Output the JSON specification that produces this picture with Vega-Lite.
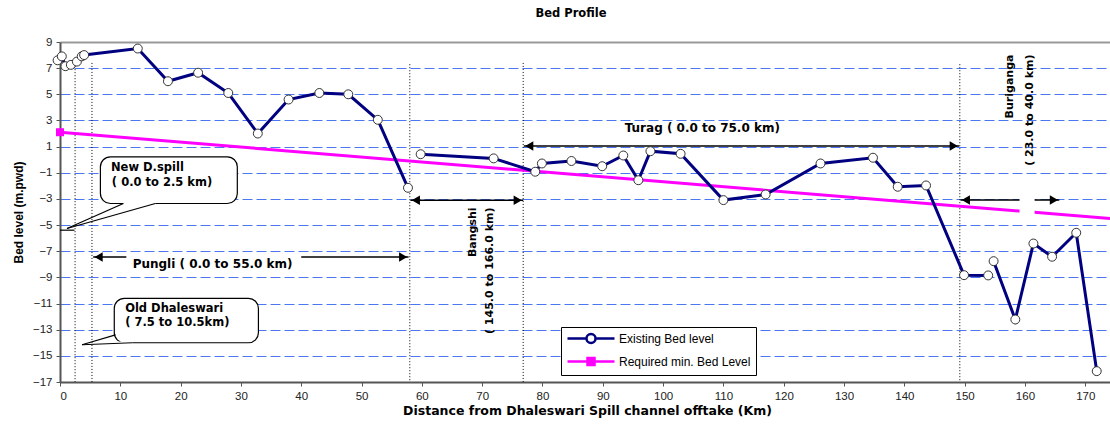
{
  "$schema": "https://vega.github.io/schema/vega-lite/v6.json",
  "width": 1050,
  "height": 340,
  "autosize": {"type": "none"},
  "padding": {"left": 60, "top": 42, "right": 0, "bottom": 43},
  "background": "white",
  "title": {"text": "Bed Profile", "font": "DejaVu Sans", "fontSize": 11.5, "fontWeight": "bold", "color": "black", "anchor": "middle", "dx": -14, "offset": 8, "baseline": "alphabetic"},
  "config": {"view": {"stroke": null}},
  "datasets": {
    "bed": [
      {"km": -0.4, "level": 7.6, "seg": 1},
      {"km": 0.3, "level": 7.9, "seg": 1},
      {"km": 0.9, "level": 7.15, "seg": 1},
      {"km": 1.8, "level": 7.25, "seg": 1},
      {"km": 2.8, "level": 7.5, "seg": 1},
      {"km": 3.6, "level": 7.9, "seg": 1},
      {"km": 4.0, "level": 8.0, "seg": 1},
      {"km": 12.9, "level": 8.5, "seg": 1},
      {"km": 17.9, "level": 6.0, "seg": 1},
      {"km": 22.9, "level": 6.65, "seg": 1},
      {"km": 27.9, "level": 5.1, "seg": 1},
      {"km": 32.8, "level": 2.0, "seg": 1},
      {"km": 37.9, "level": 4.6, "seg": 1},
      {"km": 43.0, "level": 5.1, "seg": 1},
      {"km": 47.8, "level": 5.0, "seg": 1},
      {"km": 52.7, "level": 3.05, "seg": 1},
      {"km": 57.7, "level": -2.15, "seg": 1},
      {"km": 59.8, "level": 0.42, "seg": 2},
      {"km": 71.9, "level": 0.1, "seg": 2},
      {"km": 78.8, "level": -0.92, "seg": 2},
      {"km": 79.9, "level": -0.29, "seg": 2},
      {"km": 84.8, "level": -0.1, "seg": 2},
      {"km": 89.9, "level": -0.5, "seg": 2},
      {"km": 93.4, "level": 0.32, "seg": 2},
      {"km": 95.9, "level": -1.57, "seg": 2},
      {"km": 97.9, "level": 0.65, "seg": 2},
      {"km": 102.9, "level": 0.45, "seg": 2},
      {"km": 110.0, "level": -3.09, "seg": 2},
      {"km": 117.0, "level": -2.66, "seg": 2},
      {"km": 126.1, "level": -0.29, "seg": 2},
      {"km": 134.8, "level": 0.15, "seg": 2},
      {"km": 138.9, "level": -2.07, "seg": 2},
      {"km": 143.6, "level": -1.97, "seg": 2},
      {"km": 149.9, "level": -8.83, "seg": 2},
      {"km": 153.9, "level": -8.85, "seg": 2},
      {"km": 154.8, "level": -7.76, "seg": 3},
      {"km": 158.4, "level": -12.22, "seg": 3},
      {"km": 161.4, "level": -6.41, "seg": 3},
      {"km": 164.5, "level": -7.42, "seg": 3},
      {"km": 168.5, "level": -5.59, "seg": 3},
      {"km": 171.9, "level": -16.17, "seg": 3}
    ],
    "req": [
      {"km": 0, "level": 2.1},
      {"km": 176, "level": -4.57}
    ],
    "vlines": [
      {"km": 2.5, "level": 7.15, "level2": -17},
      {"km": 5.3, "level": 7.4, "level2": -17},
      {"km": 58.0, "level": 7.3, "level2": -17},
      {"km": 76.8, "level": 7.4, "level2": -17},
      {"km": 149.2, "level": 7.3, "level2": -17}
    ],
    "arrows": [
      {"km": 5.5, "km2": 57.8, "level": -7.45},
      {"km": 58.1, "km2": 76.8, "level": -3.1},
      {"km": 76.9, "km2": 149.1, "level": 1.04},
      {"km": 149.3, "km2": 165.7, "level": -3.09}
    ],
    "heads": [
      {"km": 6.4, "level": -7.45, "dir": "left"},
      {"km": 56.9, "level": -7.45, "dir": "right"},
      {"km": 59.0, "level": -3.1, "dir": "left"},
      {"km": 75.9, "level": -3.1, "dir": "right"},
      {"km": 77.8, "level": 1.04, "dir": "left"},
      {"km": 148.2, "level": 1.04, "dir": "right"},
      {"km": 150.2, "level": -3.09, "dir": "left"},
      {"km": 164.8, "level": -3.09, "dir": "right"}
    ],
    "covers": [
      {"km": 11.0, "km2": 40.0, "level": -7.2, "level2": -8.7},
      {"km": 159.1, "km2": 161.6, "level": -2.6, "level2": -4.3}
    ],
    "boxes": [
      {"km": 6.7, "km2": 29.4, "level": 0.22, "level2": -3.35},
      {"km": 9.0, "km2": 32.9, "level": -10.6, "level2": -14.0}
    ],
    "tailcover": [
      {"km": 10.5, "km2": 15.8, "level": -3.35, "level2": -3.35},
      {"km": 9.4, "km2": 12.0, "level": -14.0, "level2": -14.0}
    ],
    "tails": [
      {"km": 10.5, "level": -3.35, "km2": 1.16, "level2": -5.26},
      {"km": 15.8, "level": -3.35, "km2": 1.16, "level2": -5.26},
      {"km": 0, "level": -5.39, "km2": 2.4, "level2": -5.39},
      {"km": 9.2, "level": -13.4, "km2": 3.65, "level2": -14.15},
      {"km": 12.0, "level": -14.0, "km2": 3.65, "level2": -14.15}
    ],
    "leftlabels": [
      {"km": 8.45, "level": -0.6, "label": "New D.spill"},
      {"km": 8.6, "level": -1.82, "label": "( 0.0 to 2.5 km)"},
      {"km": 10.8, "level": -11.45, "label": "Old Dhaleswari"},
      {"km": 10.8, "level": -12.52, "label": "( 7.5 to 10.5km)"}
    ],
    "midlabels": [
      {"km": 25.3, "level": -8.0, "label": "Pungli ( 0.0 to 55.0 km)"},
      {"km": 106.5, "level": 2.39, "label": "Turag ( 0.0 to 75.0 km)"}
    ],
    "vlabels": [
      {"km": 68.5, "level": -3.65, "label": "Bangshi"},
      {"km": 71.35, "level": -3.65, "label": "( 145.0 to 166.0 km)"},
      {"km": 157.6, "level": 8.04, "label": "Buriganga"},
      {"km": 160.8, "level": 8.04, "label": "( 23.0 to 40.0 km)"}
    ]
  },
  "encoding": {
    "x": {
      "field": "km", "type": "quantitative",
      "scale": {"domain": [0, 174.1], "nice": false, "zero": false},
      "axis": {
        "values": [0, 10, 20, 30, 40, 50, 60, 70, 80, 90, 100, 110, 120, 130, 140, 150, 160, 170],
        "grid": false, "domainColor": "#555", "domainWidth": 2, "tickColor": "#555", "tickSize": 4,
        "labelFont": "Liberation Sans", "labelFontSize": 11.5, "labelColor": "#222", "labelPadding": 4,
        "title": "Distance from Dhaleswari Spill channel offtake (Km)",
        "titleFont": "DejaVu Sans", "titleFontSize": 12.5, "titleFontWeight": "bold", "titleColor": "black",
        "titleX": 527, "titleY": 28, "titleBaseline": "middle", "titleAlign": "center"
      }
    },
    "y": {
      "field": "level", "type": "quantitative",
      "scale": {"domain": [-17, 9], "nice": false, "zero": false},
      "axis": {
        "values": [-17, -15, -13, -11, -9, -7, -5, -3, -1, 1, 3, 5, 7, 9],
        "grid": true,
        "gridColor": {"condition": {"test": "datum.value === 9", "value": "#999999"}, "value": "#4a78f0"},
        "gridDash": {"condition": {"test": "datum.value === 9", "value": []}, "value": [10, 4]},
        "gridWidth": {"condition": {"test": "datum.value === 9", "value": 2}, "value": 1},
        "domainColor": "#555", "domainWidth": 2, "tickColor": "#555", "tickSize": 4,
        "labelFont": "Liberation Sans", "labelFontSize": 11.5, "labelColor": "#222", "labelPadding": 4,
        "title": "Bed level (m.pwd)",
        "titleFont": "Liberation Sans", "titleFontSize": 12, "titleFontWeight": "bold", "titleColor": "black",
        "titleX": -42, "titleY": 170, "titleAngle": -90, "titleAlign": "center", "titleBaseline": "middle"
      }
    }
  },
  "layer": [
    {
      "data": {"name": "vlines"},
      "mark": {"type": "rule", "color": "black", "strokeWidth": 1, "strokeDash": [1, 2]},
      "encoding": {"y2": {"field": "level2"}}
    },
    {
      "data": {"name": "req"},
      "mark": {"type": "line", "strokeWidth": 3, "clip": true},
      "encoding": {
        "color": {
          "datum": "Required min. Bed Level",
          "scale": {"domain": ["Existing Bed level", "Required min. Bed Level"], "range": ["#000080", "#ff00ff"]},
          "legend": {
            "orient": "none", "legendX": 501, "legendY": 285, "title": null,
            "strokeColor": "black", "fillColor": "white", "padding": 5,
            "labelFont": "Liberation Sans", "labelFontSize": 12, "labelColor": "black",
            "symbolSize": 100, "rowPadding": 5, "labelOffset": 40,
            "encode": {
              "symbols": {
                "update": {
                  "shape": {"signal": "datum.value === 'Existing Bed level' ? 'M-1,0H2.8M4.6,0H8.4M2.8,0A0.9,0.9 0 1,1 4.6,0A0.9,0.9 0 1,1 2.8,0Z' : 'M-1,0H8.4M3.0,-0.7H4.4V0.7H3.0Z'"},
                  "fill": {"signal": "datum.value === 'Existing Bed level' ? 'white' : '#ff00ff'"},
                  "stroke": {"signal": "datum.value === 'Existing Bed level' ? '#000080' : '#ff00ff'"},
                  "strokeWidth": {"value": 2.5},
                  "opacity": {"value": 1}
                }
              }
            }
          }
        }
      }
    },
    {
      "data": {"name": "req"},
      "transform": [{"filter": "datum.km === 0"}],
      "mark": {"type": "point", "shape": "square", "filled": true, "color": "#ff00ff", "size": 64, "opacity": 1}
    },
    {
      "data": {"name": "arrows"},
      "mark": {"type": "rule", "color": "black", "strokeWidth": 1.5},
      "encoding": {"x2": {"field": "km2"}}
    },
    {
      "data": {"name": "heads"},
      "mark": {"type": "point", "filled": true, "color": "black", "size": 90, "opacity": 1},
      "encoding": {
        "shape": {"field": "dir", "type": "nominal", "scale": {"domain": ["left", "right"], "range": ["triangle-left", "triangle-right"]}, "legend": null}
      }
    },
    {
      "data": {"name": "covers"},
      "mark": {"type": "rect", "color": "white", "opacity": 1},
      "encoding": {"x2": {"field": "km2"}, "y2": {"field": "level2"}}
    },
    {
      "data": {"name": "bed"},
      "mark": {"type": "line", "strokeWidth": 3},
      "encoding": {
        "color": {"datum": "Existing Bed level"},
        "detail": {"field": "seg", "type": "nominal"}
      }
    },
    {
      "data": {"name": "bed"},
      "mark": {"type": "point", "filled": true, "fill": "white", "stroke": "#333333", "strokeWidth": 1, "size": 80, "opacity": 1}
    },
    {
      "data": {"name": "boxes"},
      "mark": {"type": "rect", "fill": "white", "stroke": "black", "strokeWidth": 1.2, "cornerRadius": 10},
      "encoding": {"x2": {"field": "km2"}, "y2": {"field": "level2"}}
    },
    {
      "data": {"name": "tailcover"},
      "mark": {"type": "rule", "color": "white", "strokeWidth": 2.5},
      "encoding": {"x2": {"field": "km2"}, "y2": {"field": "level2"}}
    },
    {
      "data": {"name": "tails"},
      "mark": {"type": "rule", "color": "black", "strokeWidth": 1.2},
      "encoding": {"x2": {"field": "km2"}, "y2": {"field": "level2"}}
    },
    {
      "data": {"name": "leftlabels"},
      "mark": {"type": "text", "font": "DejaVu Sans", "fontSize": 11.5, "fontWeight": "bold", "color": "black", "baseline": "middle", "align": "left"},
      "encoding": {"text": {"field": "label"}}
    },
    {
      "data": {"name": "midlabels"},
      "mark": {"type": "text", "font": "DejaVu Sans", "fontSize": 12, "fontWeight": "bold", "color": "black", "baseline": "middle", "align": "center"},
      "encoding": {"text": {"field": "label"}}
    },
    {
      "data": {"name": "vlabels"},
      "mark": {"type": "text", "font": "DejaVu Sans", "fontSize": 11, "fontWeight": "bold", "color": "black", "baseline": "middle", "align": "right", "angle": 270},
      "encoding": {"text": {"field": "label"}}
    }
  ]
}
